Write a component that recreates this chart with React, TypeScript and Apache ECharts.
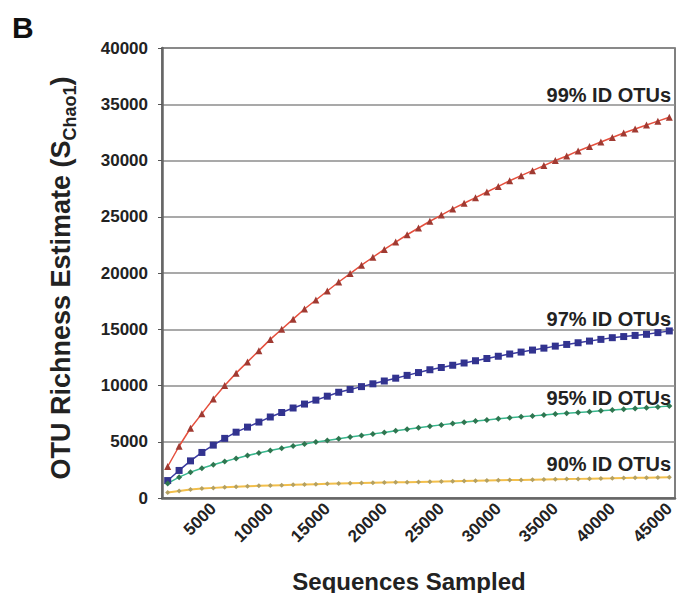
import React, { useEffect, useRef } from "react";
import * as echarts from "echarts";

const categories: number[] = [];
for (let i = 1; i <= 45; i++) categories.push(i * 1000);

const yTicks = [0, 5000, 10000, 15000, 20000, 25000, 30000, 35000, 40000];

// values in thousands
const otu99 = [2.8, 4.6, 6.2, 7.5, 8.8, 10.0, 11.1, 12.1, 13.1, 14.1, 15.0, 15.9, 16.8, 17.6, 18.4, 19.2, 19.95, 20.7, 21.4, 22.1, 22.75, 23.4, 24.0, 24.6, 25.15, 25.7, 26.2, 26.7, 27.2, 27.7, 28.2, 28.65, 29.1, 29.55, 30.0, 30.4, 30.85, 31.25, 31.65, 32.05, 32.45, 32.8, 33.15, 33.5, 33.85];
const otu97 = [1.55, 2.45, 3.3, 4.05, 4.7, 5.3, 5.85, 6.3, 6.75, 7.2, 7.6, 8.0, 8.35, 8.7, 9.05, 9.4, 9.65, 9.9, 10.15, 10.4, 10.65, 10.9, 11.15, 11.4, 11.6, 11.8, 12.0, 12.2, 12.4, 12.6, 12.8, 12.97, 13.15, 13.32, 13.5, 13.65, 13.8, 13.95, 14.1, 14.25, 14.35, 14.45, 14.55, 14.7, 14.85];
const otu95 = [1.3, 1.85, 2.3, 2.65, 2.95, 3.25, 3.52, 3.78, 4.0, 4.22, 4.43, 4.62, 4.8, 4.97, 5.12, 5.27, 5.42, 5.56, 5.7, 5.83, 5.98, 6.12, 6.25, 6.38, 6.5, 6.62, 6.73, 6.84, 6.94, 7.04, 7.13, 7.22, 7.3, 7.38, 7.46, 7.53, 7.6, 7.67, 7.75, 7.82, 7.89, 7.96, 8.03, 8.1, 8.17];
const otu90 = [0.48, 0.63, 0.75, 0.84, 0.9, 0.95, 1.0, 1.04, 1.08, 1.11, 1.14, 1.17, 1.2, 1.23, 1.26, 1.29, 1.31, 1.33, 1.35, 1.37, 1.39, 1.41, 1.43, 1.45, 1.47, 1.49, 1.51, 1.53, 1.55, 1.57, 1.59, 1.61, 1.63, 1.65, 1.67, 1.68, 1.7, 1.72, 1.74, 1.75, 1.77, 1.79, 1.8, 1.82, 1.84];

const seriesLabels = ["99% ID OTUs", "97% ID OTUs", "95% ID OTUs", "90% ID OTUs"];

const FONT = "'Liberation Sans', Arial, Helvetica, sans-serif";

export default function App() {
  const ref = useRef<HTMLDivElement>(null);
  useEffect(() => {
    if (!ref.current) return;
    const chart = echarts.init(ref.current, undefined, { renderer: "svg" });
    const k = (a: number[]) => a.map((v) => Math.round(v * 1000));
    const labelStyle = { fontFamily: FONT, fontWeight: "bold", fontSize: 20, fill: "#222" };
    chart.setOption({
      animation: false,
      backgroundColor: "#fff",
      grid: { left: 162, right: 7, top: 48, bottom: 95, show: true, borderColor: "#555", borderWidth: 1.5, backgroundColor: "transparent" },
      xAxis: {
        type: "category",
        data: categories.map(String),
        boundaryGap: true,
        axisLine: { lineStyle: { color: "#666", width: 2.5 } },
        axisTick: { interval: 0, length: 5, lineStyle: { color: "#555", width: 1 } },
        axisLabel: {
          interval: (index: number) => (index + 1) % 5 === 0,
          rotate: 45,
          margin: 8,
          fontFamily: FONT,
          fontWeight: "bold",
          fontSize: 17,
          color: "#222",
        },
        splitLine: { show: false },
      },
      yAxis: {
        type: "value",
        min: yTicks[0],
        max: yTicks[yTicks.length - 1],
        interval: 5000,
        axisLine: { show: true, lineStyle: { color: "#666", width: 2.5 } },
        axisTick: { show: true, length: 4, lineStyle: { color: "#555" } },
        axisLabel: { margin: 14, fontFamily: FONT, fontWeight: "bold", fontSize: 17, color: "#222", formatter: (v: number) => String(v) },
        splitLine: { lineStyle: { color: "#8c8c8c", width: 1.5 } },
      },
      series: [
        {
          name: seriesLabels[0], type: "line", data: k(otu99), symbol: "triangle", symbolSize: 7,
          itemStyle: { color: "#a03a32" }, lineStyle: { color: "#e5503e", width: 1.5 }, z: 4,
        },
        {
          name: seriesLabels[1], type: "line", data: k(otu97), symbol: "rect", symbolSize: 7,
          itemStyle: { color: "#32338f" }, lineStyle: { color: "#3a3aa0", width: 1.5 }, z: 3,
        },
        {
          name: seriesLabels[2], type: "line", data: k(otu95), symbol: "diamond", symbolSize: 6,
          itemStyle: { color: "#2f7650" }, lineStyle: { color: "#38b88e", width: 1.5 }, z: 3,
        },
        {
          name: seriesLabels[3], type: "line", data: k(otu90), symbol: "diamond", symbolSize: 5,
          itemStyle: { color: "#b3a062" }, lineStyle: { color: "#f3bf4a", width: 2 }, z: 3,
        },
      ],
      graphic: [
        { type: "text", left: 12, top: 12, style: { text: "B", fontFamily: FONT, fontWeight: "bold", fontSize: 30, fill: "#111" } },
        { type: "text", x: 671, y: 105, style: { ...labelStyle, text: seriesLabels[0], textAlign: "right", textVerticalAlign: "bottom" } },
        { type: "text", x: 671, y: 329, style: { ...labelStyle, text: seriesLabels[1], textAlign: "right", textVerticalAlign: "bottom" } },
        { type: "text", x: 671, y: 408, style: { ...labelStyle, text: seriesLabels[2], textAlign: "right", textVerticalAlign: "bottom" } },
        { type: "text", x: 671, y: 474, style: { ...labelStyle, text: seriesLabels[3], textAlign: "right", textVerticalAlign: "bottom" } },
        {
          type: "text", x: 409, y: 581,
          style: { text: "Sequences Sampled", fontFamily: FONT, fontWeight: "bold", fontSize: 24, fill: "#222", textAlign: "center", textVerticalAlign: "middle" },
        },
        {
          type: "text", x: 61, y: 278, rotation: Math.PI / 2,
          style: {
            text: "{a|OTU Richness Estimate (S}{b|Chao1}{a|)}",
            textAlign: "center",
            textVerticalAlign: "middle",
            fill: "#222",
            rich: {
              a: { fontFamily: FONT, fontWeight: "bold", fontSize: 27, lineHeight: 36, verticalAlign: "middle", fill: "#222" },
              b: { fontFamily: FONT, fontWeight: "bold", fontSize: 18, lineHeight: 36, verticalAlign: "bottom", padding: [12, 0, 0, 0], fill: "#222" },
            },
          },
        },
      ],
    });
    return () => chart.dispose();
  }, []);
  return <div ref={ref} style={{ position: "fixed", left: 0, top: 0, width: 682, height: 593 }} />;
}
